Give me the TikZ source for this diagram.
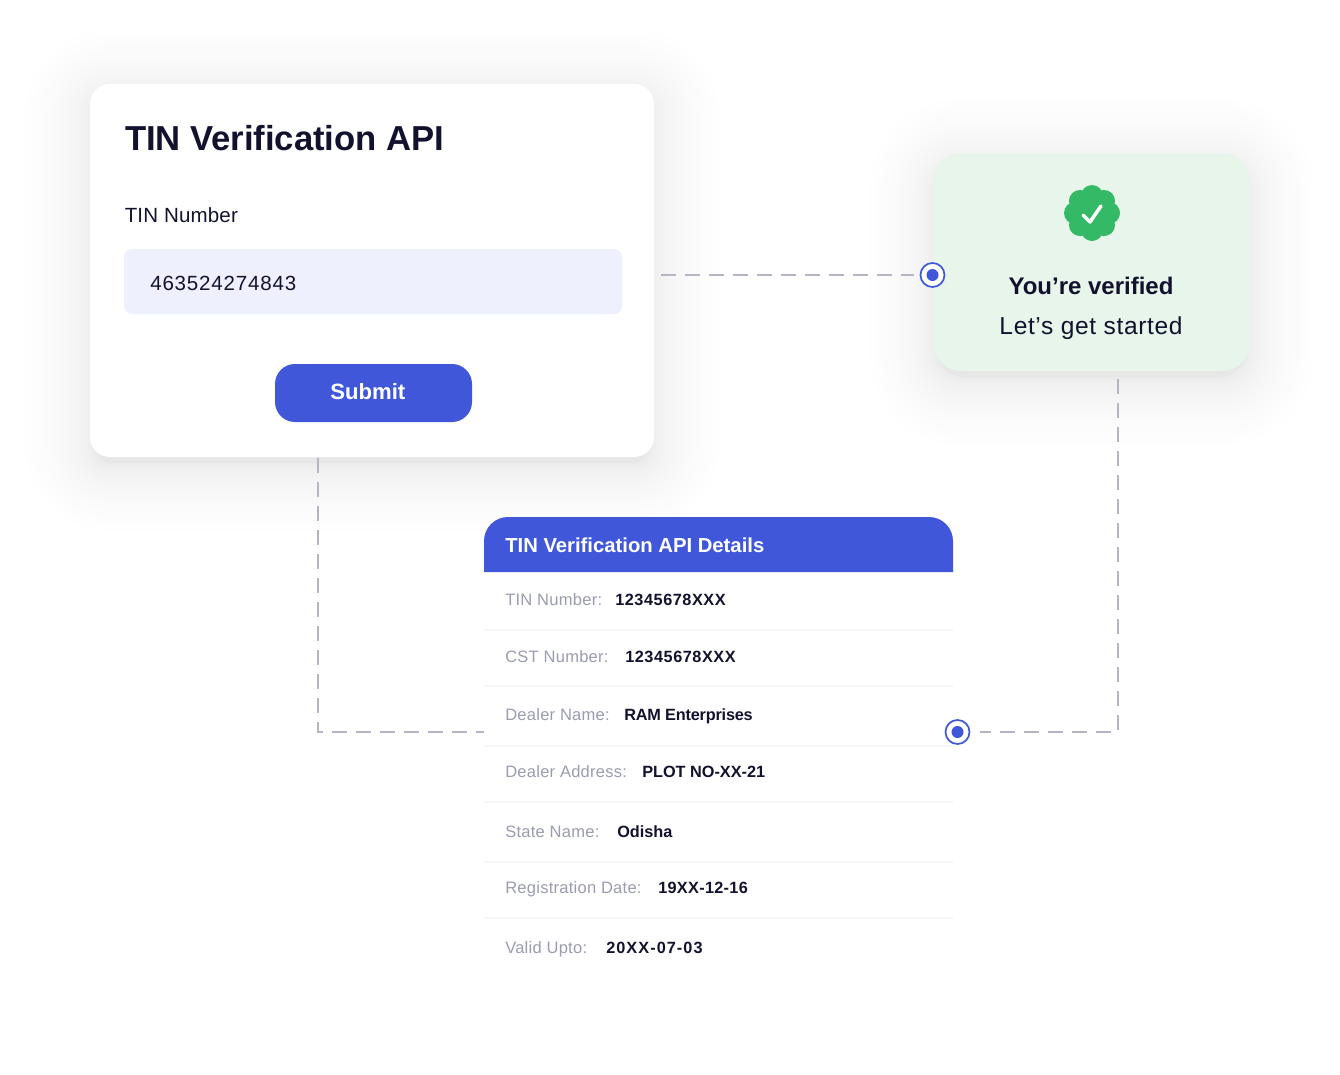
\documentclass[tikz,border=0pt]{standalone}
\usepackage{fontspec}
\setmainfont{Liberation Sans}
\usetikzlibrary{positioning}

\definecolor{apiblue}{HTML}{3F57D8}
\definecolor{inkdark}{HTML}{12122E}
\definecolor{inkgrey}{HTML}{9A9CB0}
\definecolor{fieldblue}{HTML}{EEF1FD}
\definecolor{cardgreen}{HTML}{E7F5EA}
\definecolor{badgegreen}{HTML}{34BA66}
\definecolor{dashgrey}{HTML}{B4B6C4}
\definecolor{rowline}{HTML}{F4F5F9}

\tikzset{
  dashline/.style={draw=dashgrey,line width=1.5pt,dash pattern=on 11pt off 7pt},
  ringdot/.style={circle,draw=apiblue,fill=white,line width=1.3pt,minimum size=18pt,inner sep=0pt},
  plaintext/.style={anchor=base west,inner sep=0pt,text=inkdark},
  rowlabel/.style={plaintext,text=inkgrey,font=\fontsize{12.4}{15}\selectfont},
  rowvalue/.style={plaintext,font=\bfseries\fontsize{12.2}{15}\selectfont}
}

% soft shadow: x1,y1,x2,y2,radius,opacity
\newcommand{\softshadow}[6]{
  \foreach \s in {1,...,24}{
    \pgfmathsetmacro{\dd}{68*(\s/24)^2.5-4}
    \pgfmathsetmacro{\rad}{#5+0.75*max(\dd,0)}
    \fill[black,opacity=#6,rounded corners=\rad pt]
      (#1-\dd,#2-\dd+10) rectangle (#3+\dd,#4+\dd+10);
  }
}

\begin{document}
\begin{tikzpicture}[x=0.75pt,y=-0.75pt]

 \useasboundingbox (0,0) rectangle (1340,1075);
 \fill[white] (0,0) rectangle (1340,1075);

 \softshadow{90}{84}{654}{457}{15}{0.0042}
 \softshadow{933}{153}{1250}{371}{21}{0.0052}
 \softshadow{484}{517}{953}{978}{18}{0.0016}

 % form card
 \fill[white,rounded corners=15pt] (90,84) rectangle (654,457);
 \node[plaintext,font=\bfseries\fontsize{26}{30}\selectfont] (apititle) at (125,150) {\addfontfeature{LetterSpace=-0.2}TIN Verification API};
 \node[plaintext,font=\fontsize{15.4}{18}\selectfont] (tinlabel) at (124.5,222) {\addfontfeature{LetterSpace=0.8}TIN Number};
 \fill[fieldblue,rounded corners=6pt] (124,249) rectangle (622,314);
 \node[plaintext,font=\fontsize{15.4}{18}\selectfont] (tinvalue) at (150,290) {\addfontfeature{LetterSpace=4}463524274843};
 \fill[apiblue,rounded corners=15pt] (275,364) rectangle (472,422);
 \node[plaintext,text=white,font=\bfseries\fontsize{16.6}{20}\selectfont] (submit) at (330,399) {Submit};

 % verified card
 \fill[cardgreen,rounded corners=21pt] (933,153) rectangle (1250,371);
 \foreach \a in {0,45,...,315}
   \fill[badgegreen] (1092,213) ++(\a:17) circle[radius=11];
 \fill[badgegreen] (1092,213) circle[radius=24];
 \draw[white,line width=2.6pt,line cap=round,line join=round] (1083,215) -- (1090,222) -- (1101,206);
 \node[text=inkdark,inner sep=0pt,anchor=base,font=\bfseries\fontsize{18}{22}\selectfont] (verified) at (1091,294) {You’re verified};
 \node[text=inkdark,inner sep=0pt,anchor=base,font=\fontsize{18.4}{22}\selectfont] (started) at (1091,334) {\addfontfeature{LetterSpace=2.6}Let’s get started};

 % details card
 \fill[white,rounded corners=18pt] (484,517) rectangle (953,978);
 \fill[apiblue] (484,572) [rounded corners=18pt] -- (484,517) -- (953,517) [sharp corners] -- (953,572) -- cycle;
 \node[plaintext,text=white,font=\bfseries\fontsize{15.2}{18}\selectfont] (dethead) at (505,552) {TIN Verification API Details};
 \foreach \y in {630,686,746,802,862,918}
   \draw[rowline,line width=1pt] (484,\y) -- (953,\y);

 \foreach \n/\lab/\val/\vx/\y/\ls in {
   tin/TIN Number:/12345678XXX/615/605/3.4,
   cst/CST Number:/12345678XXX/625/662/3.4,
   dname/Dealer Name:/RAM Enterprises/624/720/-1.2,
   daddr/Dealer Address:/PLOT NO-XX-21/642/777/0,
   state/State Name:/Odisha/617/837/0,
   regd/Registration Date:/19XX-12-16/658/893/1.9,
   valid/Valid Upto:/20XX-07-03/606/953/6.5}
 {
   \node[rowlabel] (\n l) at (505,\y) {\addfontfeature{LetterSpace=1.5}\lab};
   \node[rowvalue] (\n v) at (\vx,\y) {\addfontfeature{LetterSpace=\ls}\val};
 }

 % connectors
 \coordinate (apiout) at (661,275);
 \coordinate (apidown) at (318,458);
 \coordinate (detin) at (484,732);
 \coordinate (verout) at (1118,379);
 \node[ringdot] (dotver) at (932.5,275) {};
 \node[ringdot] (dotdet) at (957.5,732) {};
 \fill[apiblue] (dotver) circle[radius=6];
 \fill[apiblue] (dotdet) circle[radius=6];

 \draw[dashline,shorten >=4pt] (apiout) -- (dotver);
 \draw[dashline] (apidown) |- (detin);
 \draw[dashline,shorten >=7pt] (verout) |- (dotdet);

\end{tikzpicture}
\end{document}
